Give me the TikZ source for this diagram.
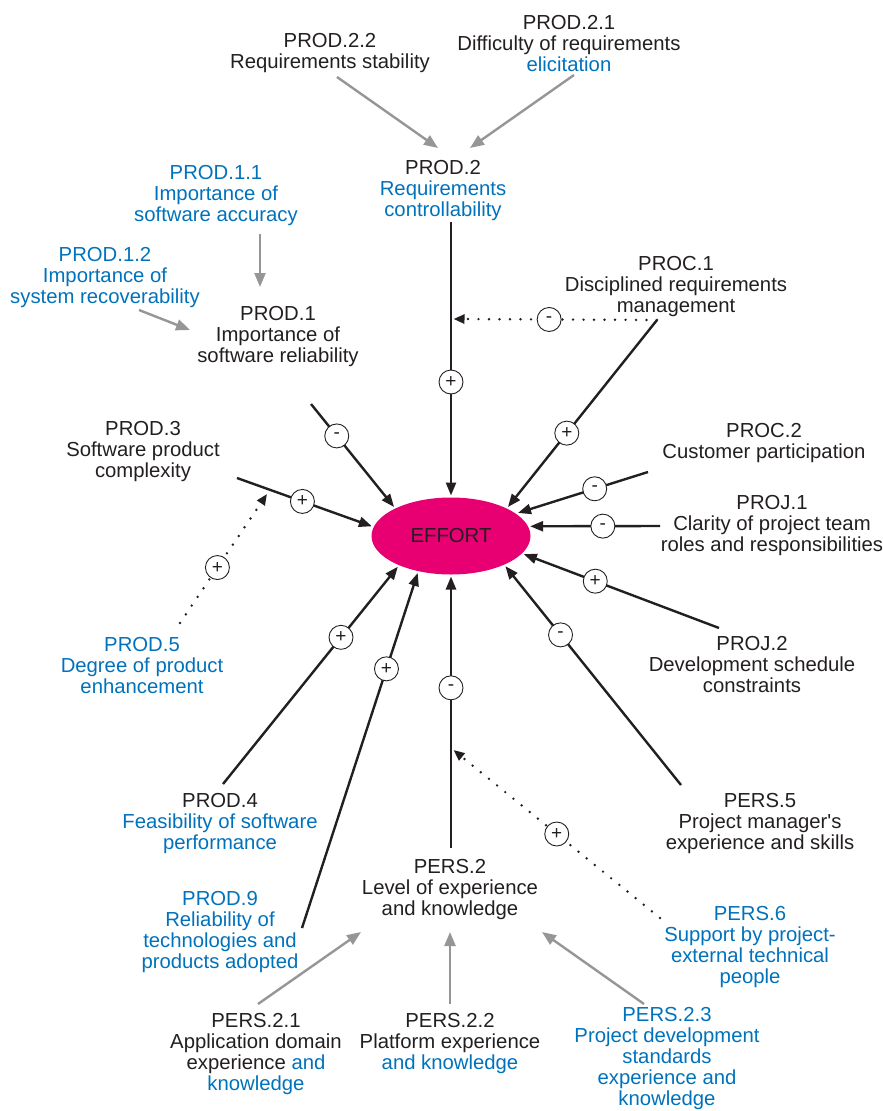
\documentclass[tikz,border=0pt]{standalone}
\usepackage{fontspec}
\setmainfont{Liberation Sans}[Ligatures=TeXOff]
\usetikzlibrary{arrows.meta,shapes.geometric}
\definecolor{txt}{RGB}{35,31,32}
\definecolor{blu}{RGB}{0,114,188}
\definecolor{mag}{RGB}{232,0,115}
\definecolor{gar}{RGB}{150,150,153}
\begin{document}
\begin{tikzpicture}[x=1pt,y=-1pt,
  lbl/.style={align=center,inner sep=0pt,text=txt,font=\fontsize{20.3}{21}\selectfont},
  bl/.style={text=blu},
  sgn/.style={circle,draw=txt,solid,line width=0.9pt,fill=white,minimum size=24pt,inner sep=0pt,font=\fontsize{19}{19}\selectfont,text=txt},
  infl/.style={draw=txt,line width=2.4pt,-{Triangle[length=13pt,width=10pt]}},
  modl/.style={draw=txt,line width=2.7pt,line cap=round,dash pattern=on 0pt off 10.5pt,-{Triangle[length=11pt,width=9pt]}},
  comp/.style={draw=gar,line width=2.4pt,-{Triangle[length=14pt,width=11pt]}}
]
\useasboundingbox (0,0) rectangle (883,1111);

% text nodes
\node[lbl] (p22) at (330,53) {PROD.2.2\\Requirements stability};
\node[lbl] (p21) at (569,44) {PROD.2.1\\Difficulty of requirements\\\textcolor{blu}{elicitation}};
\node[lbl] (p2) at (443,191) {PROD.2\\\textcolor{blu}{Requirements}\\\textcolor{blu}{controllability}};
\node[lbl,bl] (p11) at (216,196) {PROD.1.1\\Importance of\\software accuracy};
\node[lbl,bl] (p12) at (105,278) {PROD.1.2\\Importance of\\system recoverability};
\node[lbl] (p1) at (278,337) {PROD.1\\Importance of\\software reliability};
\node[lbl] (pc1) at (676,287) {PROC.1\\Disciplined requirements\\management};
\node[lbl] (p3) at (143,452) {PROD.3\\Software product\\complexity};
\node[lbl] (pc2) at (764,443) {PROC.2\\Customer participation};
\node[lbl] (pj1) at (772,526) {PROJ.1\\Clarity of project team\\roles and responsibilities};
\node[ellipse,fill=mag,minimum width=159pt,minimum height=77pt,inner sep=0pt,outer sep=2pt,text=txt,font=\fontsize{20.3}{21}\selectfont] (eff) at (451,536) {EFFORT};
\node[lbl,bl] (p5) at (142,666) {PROD.5\\Degree of product\\enhancement};
\node[lbl] (pj2) at (752,665) {PROJ.2\\Development schedule\\constraints};
\node[lbl] (p4) at (220,824) {PROD.4\\\textcolor{blu}{Feasibility of software}\\\textcolor{blu}{performance}};
\node[lbl] (ps5) at (760,824) {PERS.5\\Project manager's\\experience and skills};
\node[lbl] (ps2) at (450,890) {PERS.2\\Level of experience\\and knowledge};
\node[lbl,bl] (p9) at (220,932.5) {PROD.9\\Reliability of\\technologies and\\products adopted};
\node[lbl,bl] (ps6) at (750,947.5) {PERS.6\\Support by project-\\external technical\\people};
\node[lbl] (ps21) at (256,1054.5) {PERS.2.1\\Application domain\\experience \textcolor{blu}{and}\\\textcolor{blu}{knowledge}};
\node[lbl] (ps22) at (450,1044) {PERS.2.2\\Platform experience\\\textcolor{blu}{and knowledge}};
\node[lbl,bl] (ps23) at (667,1059) {PERS.2.3\\Project development\\standards\\experience and\\knowledge};

% connector end points
\coordinate (a22) at (337,77);   \coordinate (b22) at (438,148);
\coordinate (a21) at (574,75);   \coordinate (b21) at (470,148);
\coordinate (a11) at (260,234);  \coordinate (b11) at (260,287);
\coordinate (a12) at (139,310);  \coordinate (b12) at (190,330);
\coordinate (a221) at (258,1004); \coordinate (b221) at (361,932);
\coordinate (a222) at (450,1004); \coordinate (b222) at (450,932);
\coordinate (a223) at (644,1004); \coordinate (b223) at (542,932);

\coordinate (s2) at (451,222);
\coordinate (sc1) at (657,320);
\coordinate (s1) at (311,404);
\coordinate (s3) at (237,478);
\coordinate (sc2) at (648,472);
\coordinate (sj1) at (660,526);
\coordinate (sj2) at (719,628);
\coordinate (sp5) at (681,785);
\coordinate (s4) at (223,784);
\coordinate (s9) at (302,928);
\coordinate (sp2) at (451,848);

\coordinate (m1) at (453.5,319);
\coordinate (s5) at (180,623);  \coordinate (m5) at (267,494);
\coordinate (sp6) at (660,918); \coordinate (m6) at (453.5,750);

% composition arrows (grey)
\draw[comp] (a22) -- (b22);
\draw[comp] (a21) -- (b21);
\draw[comp] (a11) -- (b11);
\draw[comp] (a12) -- (b12);
\draw[comp] (a221) -- (b221);
\draw[comp] (a222) -- (b222);
\draw[comp] (a223) -- (b223);

% influences on effort
\draw[infl] (s2) -- node[sgn,pos=0.585] {+} (eff.90);
\draw[infl] (sc1) -- node[sgn,pos=0.605] {+} (eff.27.7);
\draw[infl] (s1) -- node[sgn,pos=0.31] {-} (eff.153);
\draw[infl] (s3) -- node[sgn,pos=0.485] {+} (eff.173.6);
\draw[infl] (sc2) -- node[sgn,pos=0.41] {-} (eff.19.6);
\draw[infl] (sj1) -- node[sgn,pos=0.44] {-} (eff.7.2);
\draw[infl] (sj2) -- node[sgn,pos=0.634] {+} (eff.-14.4);
\draw[infl] (sp5) -- node[sgn,pos=0.686] {-} (eff.-29);
\draw[infl] (s4) -- node[sgn,pos=0.675] {+} (eff.210.7);
\draw[infl] (s9) -- node[sgn,pos=0.73] {+} (eff.228);
\draw[infl] (sp2) -- node[sgn,pos=0.59] {-} (eff.270);

% moderating (dotted) influences
\draw[modl] (sc1) -- node[sgn,pos=0.53] {-} (m1);
\draw[modl] (s5) -- node[sgn,pos=0.43] {+} (m5);
\draw[modl] (sp6) -- node[sgn,pos=0.5] {+} (m6);
\end{tikzpicture}
\end{document}
